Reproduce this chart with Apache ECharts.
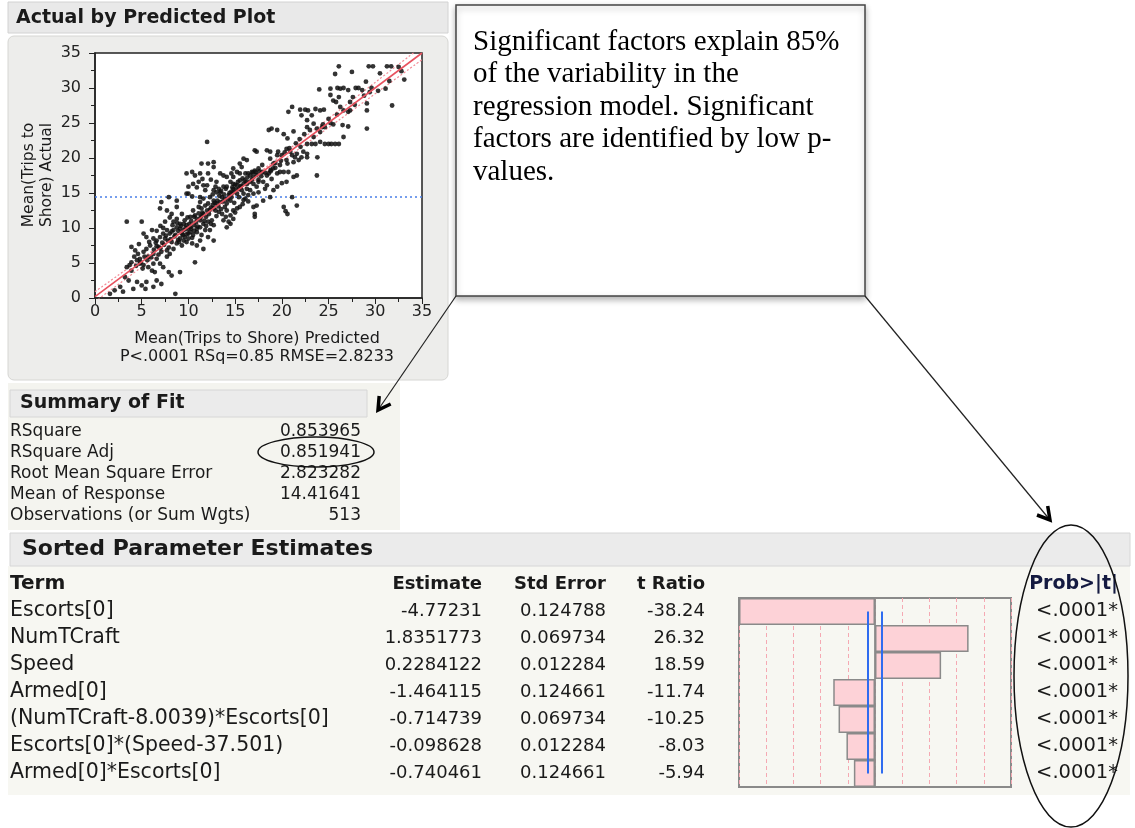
<!DOCTYPE html>
<html>
<head>
<meta charset="utf-8">
<script src="https://cdn.jsdelivr.net/npm/echarts@6/dist/echarts.min.js"></script>
<style>
html,body{margin:0;padding:0;background:#fff;}
#c{width:1135px;height:828px;}
</style>
</head>
<body>
<div id="c"></div>
<script>
// ---------- DATA ----------
const actualByPredicted = [
[26.1,33.1],[29.3,33.1],[29.75,33.1],[31.25,33.1],[31.7,33.1],[32.5,33.0],[30.5,32.1],[27.5,32.3],[25.7,32.0],[33.1,31.2],[29.0,30.9],
[25.2,29.9],[25.95,30.0],[26.25,29.9],[26.6,30.0],[24.0,29.8],[27.1,29.7],[27.6,28.7],[27.9,30.0],[28.2,30.0],[29.6,30.0],[29.4,29.4],[28.6,29.7],[31.1,29.9],[31.8,27.5],[29.1,27.8],[29.1,26.8],[27.3,28.0],
[25.2,29.0],[25.5,28.2],[26.1,28.7],[25.8,28.0],[26.25,27.3],[26.6,26.8],[27.1,26.6],[27.3,26.8],[29.1,24.2],[27.1,24.5],[26.6,23.0],[26.5,24.7],[25.5,24.8],[25.2,25.0],
[24.6,22.0],[25.0,22.0],[25.3,22.0],[25.7,22.0],[26.1,22.0],[24.1,22.3],[24.1,23.7],[23.4,23.0],[23.75,24.2],[24.3,24.4],[24.6,24.4],[23.2,26.1],[23.6,27.0],[24.1,26.8],[24.5,26.9],[22.8,26.8],[22.5,26.9],[21.96,26.9],[22.1,26.1],[20.7,26.6],[21.1,27.3],[22.7,25.4],[23.4,24.9],[22.7,24.4],[22.7,22.0],[23.2,22.0],[23.6,22.0],[23.75,17.5],[23.8,20.1],[22.7,20.1],[22.3,20.9],[22.1,20.1],[22.7,20.6],
[18.6,24.0],[18.9,24.2],[19.5,24.0],[21.25,23.8],[20.2,23.4],[20.6,22.8],[19.5,20.4],[20.0,20.4],[19.6,20.9],[20.5,21.3],[20.9,20.9],[21.1,20.4],[21.4,20.1],[21.6,20.6],[20.5,19.7],[21.25,19.4],[21.8,19.7],
[20.7,18.0],[20.2,18.0],[19.8,18.0],[19.5,17.8],[20.0,16.4],[20.5,16.6],[21.25,17.3],[21.6,17.5],
[18.75,20.9],[18.4,21.1],[18.75,19.9],[19.1,19.2],[19.05,18.5],[18.8,18.1],[18.6,17.8],[18.4,17.5],[18.9,17.0],
[17.9,19.0],[17.5,18.5],[17.1,18.2],[16.8,18.0],[16.96,17.3],[17.5,16.6],[17.1,21.1],[17.3,20.9],[16.25,19.7],[15.9,19.9],[15.5,19.2],[15.7,18.7],
[14.8,18.5],[15.2,18.0],[15.5,17.8],[16.1,17.8],[16.4,17.8],[14.6,17.8],[14.1,17.3],[13.75,17.5],[13.4,17.8],[14.8,17.3],
[15.5,16.8],[15.9,16.3],[16.25,16.3],[16.6,16.6],[16.96,16.3],[14.8,16.3],[15.2,16.1],[14.5,16.6],[14.1,15.9],[14.8,15.6],[15.4,15.6],[15.7,15.4],[16.25,15.6],
[17.3,15.9],[17.5,15.1],[16.96,14.9],[16.4,14.7],[15.9,14.9],[16.1,14.2],[18.0,16.6],[18.4,16.1],[18.2,15.6],[18.0,13.9],[18.75,14.4],[19.1,15.4],[19.5,15.9],
[16.96,13.0],[17.3,13.2],[17.1,12.0],[17.1,11.6],[20.2,13.0],[20.4,12.4],[20.6,12.0],[21.6,13.2],[21.1,14.4],
[12.0,22.3],[11.4,19.2],[12.1,19.2],[12.7,19.4],[12.7,18.7],[9.8,17.8],[10.4,18.0],[10.7,17.5],[11.25,17.8],[12.1,17.8],
[10.5,16.3],[11.1,16.6],[11.6,16.1],[11.8,15.4],[12.0,16.1],[9.8,14.9],[10.4,14.5],[11.25,14.4],[11.6,14.2],[12.3,14.4],[12.7,13.9],
[12.9,15.9],[13.25,15.6],[13.4,15.1],[13.0,15.1],[12.7,15.4],[13.75,15.9],[13.6,14.4],[13.9,14.2],[14.5,13.9],[13.4,13.7],[14.1,13.5],[14.6,14.4],
[14.8,15.1],[15.2,14.9],[15.4,14.4],[13.0,13.5],[12.7,12.8],[13.25,12.3],[13.6,12.0],[14.1,12.5],[14.5,11.8],[14.8,12.5],[15.2,12.8],[15.5,13.0],
[13.75,11.1],[14.3,10.9],[14.1,10.1],[14.5,10.6],[14.8,11.3],[11.25,13.7],[11.1,13.0],[11.4,12.8],[11.6,12.0],[11.8,13.2],[12.1,13.5],[12.0,12.5],
[10.5,12.5],[10.7,11.8],[10.2,11.6],[10.9,11.3],[11.25,11.1],[11.6,10.6],[12.1,10.9],[12.5,11.1],[12.7,10.4],[12.3,9.7],[11.8,9.7],[11.25,10.1],[10.9,9.4],[12.7,8.2],[12.1,8.7],
[9.3,12.0],[8.75,11.3],[8.4,10.9],[9.1,10.6],[9.6,11.1],[9.8,10.4],[10.2,10.1],[9.5,9.7],[9.1,9.9],[8.75,10.1],[8.4,9.7],[8.0,9.2],[8.6,9.0],[9.3,9.2],[9.6,8.7],[9.1,8.5],[10.0,9.2],[10.2,9.4],[10.5,9.0],
[7.7,9.7],[7.3,9.2],[6.96,8.7],[7.5,8.5],[7.8,8.2],[8.2,8.0],[8.75,7.8],[9.3,7.5],[9.8,8.0],[10.4,7.8],[10.9,7.5],[11.25,8.2],[11.6,7.0],
[6.96,12.8],[7.7,12.5],[8.2,12.0],[8.75,13.0],[7.1,13.7],[7.9,14.4],[8.75,13.9],[10.0,14.9],[10.0,15.9],
[5.0,10.9],[5.2,9.2],[5.5,8.7],[6.1,9.7],[6.25,8.5],[6.6,8.2],[3.9,7.3],[4.3,6.8],[4.6,6.3],[5.2,6.6],[5.5,7.0],[4.8,5.6],[5.7,5.9],[6.25,6.3],
[6.8,7.3],[7.1,6.6],[6.6,5.6],[6.96,4.9],[7.7,5.9],[8.0,6.3],[8.4,7.0],[7.7,6.8],
[7.3,4.4],[7.9,3.7],[8.2,3.2],[6.4,3.7],[6.6,2.5],[7.1,2.0],[6.25,1.6],[5.5,2.3],[5.4,1.3],[5.0,1.8],[9.1,3.7],[8.6,0.6],[10.7,5.1],[3.4,10.9],
[3.2,3.0],[3.6,2.5],[2.7,1.6],[2.1,1.1],[1.6,0.6],[3.0,0.9],[4.1,1.3],[4.5,2.3],[3.9,3.9],[3.4,4.4],
[3.9,5.1],[4.5,5.4],[4.8,4.9],[5.2,4.7],[5.7,4.4],[6.1,3.9],[6.25,4.9],
[8.2,9.5],[8.5,8.8],[8.9,9.6],[9.2,10.3],[9.4,9.0],[9.7,10.0],[9.9,9.8],[10.1,10.6],[10.3,9.9],[10.6,10.4],[10.8,10.8],[11.0,10.2],[11.3,11.5],[11.5,12.2],[11.9,11.6],[12.2,12.0],[12.4,12.9],[12.6,13.3],[13.1,13.9],[13.3,14.6],[13.5,15.3],[13.8,14.8],[14.0,15.6],[14.2,14.1],[14.4,15.0],[14.7,15.8],[15.0,16.2],[15.3,16.6],[15.6,16.0],[15.8,17.1],[16.0,16.8],[16.3,17.2],[16.6,17.5],[16.9,17.9],[17.2,18.0],[17.6,18.1],[17.9,18.0],[18.2,17.9],
[7.4,7.6],[7.6,8.9],[7.9,7.2],[8.1,8.4],[6.3,6.9],[6.6,7.4],[6.0,5.8],[5.6,5.4],[5.3,5.9],[4.9,5.1],[4.4,4.6],[6.8,6.2],[7.2,7.9],[9.0,8.0],[9.8,9.1],[10.4,8.6],[10.9,9.9],[11.7,11.0],[12.9,12.5],[13.9,13.0],[14.9,13.6],[15.9,14.0],[16.6,15.4],[17.5,16.9],[18.8,18.3],[19.3,19.3],[19.9,19.6],[20.3,20.8],[20.8,21.4],[21.9,22.7],[22.4,23.4],[23.0,24.0],[24.4,24.8],[25.0,25.6],[25.9,26.2],[27.8,27.6],[28.8,28.9],[30.3,29.6],[31.5,31.0],[32.8,32.4],
[8.3,10.4],[8.8,10.7],[9.5,10.6],[9.9,11.5],[10.3,11.0],[10.6,11.6],[11.1,12.1],[11.4,11.7],[12.3,12.6],[12.8,13.6],[13.2,13.1],[13.7,13.8],[14.3,14.7],[14.6,15.2],[15.1,15.5],[15.6,15.9],[16.2,16.6],[16.8,16.9],[17.3,17.6],[17.8,17.4],
[8.9,8.3],[9.5,8.2],[10.0,8.5],[10.6,9.6],[11.4,9.0],[11.9,10.3],[12.4,10.6],[13.0,11.7],[13.5,12.7],[14.0,11.6],[15.0,12.2],[15.8,13.4],[16.4,13.8],
[7.0,10.3],[7.5,10.9],[8.0,11.5],[6.6,9.6],[7.3,10.0],[5.8,8.0],[5.9,7.5],[6.5,7.9],[7.0,7.1],[4.7,7.7],[4.2,5.9],[3.7,4.7],[5.1,4.2],
[12.4,16.9],[13.0,16.6],[11.5,17.0],[10.9,15.8],[12.6,14.8],[19.8,19.0],[20.6,19.2],[19.3,18.6],[22.0,21.6],[21.5,22.1]
];
const fitLine = [[0,0.2],[35,35]];
const ciUpper = [[0,0.9],[7,7.55],[14.4,14.65],[21,21.5],[28,28.75],[35,35.95]];
const ciLower = [[0,-0.5],[7,6.45],[14.4,14.15],[21,20.5],[28,27.25],[35,34.05]];
const meanResponse = 14.41641;

const summaryLabels = ['RSquare','RSquare Adj','Root Mean Square Error','Mean of Response','Observations (or Sum Wgts)'];
const summaryValues = ['0.853965','0.851941','2.823282','14.41641','513'];

const terms = ['Escorts[0]','NumTCraft','Speed','Armed[0]','(NumTCraft-8.0039)*Escorts[0]','Escorts[0]*(Speed-37.501)','Armed[0]*Escorts[0]'];
const estimates = ['-4.77231','1.8351773','0.2284122','-1.464115','-0.714739','-0.098628','-0.740461'];
const stdErrors = ['0.124788','0.069734','0.012284','0.124661','0.069734','0.012284','0.124661'];
const tRatios = [-38.24, 26.32, 18.59, -11.74, -10.25, -8.03, -5.94];
const probs = ['<.0001*','<.0001*','<.0001*','<.0001*','<.0001*','<.0001*','<.0001*'];
const tCritical = 1.965;

const noteLines = ['Significant factors explain 85%','of the variability in the','regression model. Significant','factors are identified by low p-','values.'];

// ---------- CHART ----------
const SANS = '"DejaVu Sans", "Noto Sans", sans-serif';
const SERIF = '"Liberation Serif", "DejaVu Serif", serif';
function txt(x, y, text, font, opt) {
  opt = opt || {};
  return {
    type: 'text', x: x, y: y, z: opt.z || 50, rotation: opt.rotation || 0,
    style: {
      text: text, font: font, fill: opt.fill || '#1a1a1a',
      textAlign: opt.align || 'left', align: opt.align || 'left',
      textVerticalAlign: 'middle', verticalAlign: 'middle'
    }
  };
}
const g = [];
// left panel backgrounds
g.push({type:'rect', z:-20, shape:{x:8,y:36,width:440,height:344,r:6}, style:{fill:'#ededeb', stroke:'#d6d6d3', lineWidth:1}});
g.push({type:'rect', z:-20, shape:{x:8,y:2,width:440,height:31}, style:{fill:'#e9e9e9', stroke:'#d2d2d2', lineWidth:1}});
g.push(txt(16, 18, 'Actual by Predicted Plot', 'bold 19px ' + SANS));
g.push({type:'rect', z:-20, shape:{x:8,y:383,width:392,height:147}, style:{fill:'#f4f4ef'}});
g.push({type:'rect', z:-19, shape:{x:10,y:390,width:357,height:27}, style:{fill:'#ebebeb', stroke:'#d6d6d6', lineWidth:1}});
g.push(txt(20, 403, 'Summary of Fit', 'bold 19px ' + SANS));
summaryLabels.forEach(function(l, i){
  g.push(txt(10, 432 + i*21, l, '17px ' + SANS));
  g.push(txt(361, 432 + i*21, summaryValues[i], '17px ' + SANS, {align:'right'}));
});
// axis titles of scatter
g.push(txt(29, 175, 'Mean(Trips to', '15.5px ' + SANS, {rotation: Math.PI/2, align:'center'}));
g.push(txt(47, 175, 'Shore) Actual', '15.5px ' + SANS, {rotation: Math.PI/2, align:'center'}));
g.push(txt(257, 339, 'Mean(Trips to Shore) Predicted', '16px ' + SANS, {align:'center'}));
g.push(txt(257, 357, 'P<.0001 RSq=0.85 RMSE=2.8233', '16px ' + SANS, {align:'center'}));

// Sorted parameter estimates
g.push({type:'rect', z:-20, shape:{x:8,y:566,width:1122,height:229}, style:{fill:'#f7f7f2'}});
g.push({type:'rect', z:-19, shape:{x:10,y:533,width:1120,height:33}, style:{fill:'#ebebeb', stroke:'#d6d6d6', lineWidth:1}});
g.push(txt(22, 549, 'Sorted Parameter Estimates', 'bold 22px ' + SANS));
g.push(txt(10, 584, 'Term', 'bold 20px ' + SANS));
g.push(txt(482, 584, 'Estimate', 'bold 18px ' + SANS, {align:'right'}));
g.push(txt(606, 584, 'Std Error', 'bold 18px ' + SANS, {align:'right'}));
g.push(txt(705, 584, 't Ratio', 'bold 18px ' + SANS, {align:'right'}));
g.push(txt(1118, 584, 'Prob>|t|', 'bold 19px ' + SANS, {align:'right', fill:'#141a40'}));
terms.forEach(function(t, i){
  const y = 611 + i*27;
  g.push(txt(10, y, t, '20.5px ' + SANS));
  g.push(txt(482, y, estimates[i], '18px ' + SANS, {align:'right'}));
  g.push(txt(606, y, stdErrors[i], '18px ' + SANS, {align:'right'}));
  g.push(txt(705, y, tRatios[i].toFixed(2), '18px ' + SANS, {align:'right'}));
  g.push(txt(1118, y, probs[i], '19.5px ' + SANS, {align:'right'}));
});

// annotation box
g.push({type:'rect', z:60, shape:{x:456,y:5,width:409,height:291}, style:{fill:'#fff', stroke:'#444', lineWidth:1.5, shadowBlur:6, shadowOffsetY:3, shadowColor:'rgba(0,0,0,0.3)'}});
noteLines.forEach(function(l, i){
  g.push(txt(473, 42 + i*32.5, l, '29px ' + SERIF, {z:61, fill:'#000'}));
});
// arrows
g.push({type:'line', z:62, shape:{x1:456,y1:296,x2:378,y2:410}, style:{stroke:'#222', lineWidth:1.2}});
g.push({type:'polyline', z:62, shape:{points:[[390.7,404],[378,410],[379.2,396]]}, style:{stroke:'#000', lineWidth:3.5, fill:null}});
g.push({type:'line', z:62, shape:{x1:865,y1:296,x2:1050,y2:520}, style:{stroke:'#222', lineWidth:1.2}});
g.push({type:'polyline', z:62, shape:{points:[[1047.7,506],[1050,520],[1037,515]]}, style:{stroke:'#000', lineWidth:3.5, fill:null}});
// ellipses
g.push({type:'ellipse', z:62, shape:{cx:316,cy:452,rx:58,ry:15}, style:{fill:null, stroke:'#111', lineWidth:1.5}});
g.push({type:'ellipse', z:62, shape:{cx:1071,cy:676,rx:57,ry:151}, style:{fill:null, stroke:'#111', lineWidth:1.5}});

const chart = echarts.init(document.getElementById('c'), null, {renderer:'canvas'});
chart.setOption({
  animation: false,
  backgroundColor: '#ffffff',
  graphic: g,
  grid: [
    {left:95, top:53, width:327, height:245, show:true, backgroundColor:'#ffffff', borderColor:'#222', borderWidth:1.5},
    {left:739, top:598, width:272, height:189, show:true, backgroundColor:'#f7f7f2', borderColor:'#8a8a8a', borderWidth:2}
  ],
  xAxis: [
    {gridIndex:0, type:'value', min:0, max:35, interval:5,
     axisLine:{show:true, onZero:false, lineStyle:{color:'#222', width:1.5}},
     axisTick:{show:true, length:6, lineStyle:{color:'#222'}},
     minorTick:{show:true, splitNumber:2, length:4, lineStyle:{color:'#222'}},
     axisLabel:{color:'#222', fontSize:16, fontFamily:SANS, margin:6},
     splitLine:{show:false}},
    {gridIndex:1, type:'value', min:-38.24, max:38.24, interval:7.648,
     axisLine:{show:false}, axisTick:{show:false}, axisLabel:{show:false},
     splitLine:{show:true, lineStyle:{color:'#f5a9b3', type:[4,3], width:1}}}
  ],
  yAxis: [
    {gridIndex:0, type:'value', min:0, max:35, interval:5,
     axisLine:{show:true, onZero:false, lineStyle:{color:'#222', width:1.5}},
     axisTick:{show:true, length:6, lineStyle:{color:'#222'}},
     minorTick:{show:true, splitNumber:2, length:4, lineStyle:{color:'#222'}},
     axisLabel:{color:'#222', fontSize:16, fontFamily:SANS, margin:14},
     splitLine:{show:false}},
    {gridIndex:1, type:'category', data:terms, inverse:true,
     axisLine:{show:false}, axisTick:{show:false}, axisLabel:{show:false}, splitLine:{show:false}}
  ],
  series: [
    {type:'line', xAxisIndex:0, yAxisIndex:0, data:ciUpper, smooth:true, symbol:'none', clip:true,
     lineStyle:{color:'#f28a95', width:1.2, type:[2,2]}, z:3},
    {type:'line', xAxisIndex:0, yAxisIndex:0, data:ciLower, smooth:true, symbol:'none', clip:true,
     lineStyle:{color:'#f28a95', width:1.2, type:[2,2]}, z:3},
    {type:'line', xAxisIndex:0, yAxisIndex:0, data:[[0,meanResponse],[35,meanResponse]], symbol:'none',
     lineStyle:{color:'#4a7fe8', width:1.5, type:[2,3]}, z:3},
    {type:'scatter', xAxisIndex:0, yAxisIndex:0, data:actualByPredicted, symbolSize:4.8,
     itemStyle:{color:'#111111', opacity:0.85}, z:4},
    {type:'line', xAxisIndex:0, yAxisIndex:0, data:fitLine, symbol:'none',
     lineStyle:{color:'#e8525f', width:1.6}, z:5},
    {type:'bar', xAxisIndex:1, yAxisIndex:1, data:tRatios, barWidth:'100%', barCategoryGap:0,
     itemStyle:{color:'#fdd2d7', borderColor:'#8a8a8a', borderWidth:1.5}, z:3,
     markLine:{silent:true, symbol:'none', label:{show:false}, data:[{xAxis:0}],
               lineStyle:{color:'#8a8a8a', type:'solid', width:1.8}}},
    {type:'line', xAxisIndex:1, yAxisIndex:1, data:[[-tCritical, terms[0]],[-tCritical, terms[terms.length-1]]],
     symbol:'none', lineStyle:{color:'#2f6cf0', width:2}, z:6},
    {type:'line', xAxisIndex:1, yAxisIndex:1, data:[[tCritical, terms[0]],[tCritical, terms[terms.length-1]]],
     symbol:'none', lineStyle:{color:'#2f6cf0', width:2}, z:6}
  ]
});
</script>
</body>
</html>
